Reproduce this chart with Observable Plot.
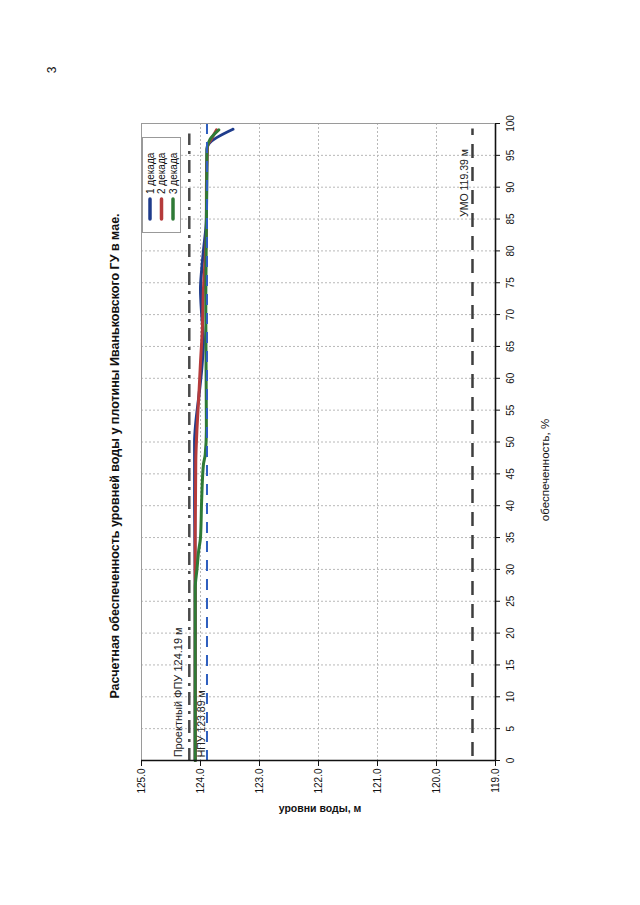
<!DOCTYPE html>
<html>
<head>
<meta charset="utf-8">
<script src="https://cdn.jsdelivr.net/npm/d3@7"></script>
<script src="https://cdn.jsdelivr.net/npm/@observablehq/plot@0.6"></script>
<style>
  html, body { margin: 0; padding: 0; background: #fff; }
  body { font-family: "Liberation Sans", Arial, sans-serif; }
  #page { position: relative; width: 640px; height: 905px; overflow: hidden; background: #fff; }
  #rot { position: absolute; left: 0; top: 0; width: 905px; height: 640px;
         transform-origin: 0 0; transform: translate(0px, 905px) rotate(-90deg); }
  #rot svg.plot { position: absolute; left: 0; top: 0; }
  .abs { position: absolute; white-space: nowrap; color: #111; }
</style>
</head>
<body>
<div id="page"><div id="rot"></div></div>
<script>
// ---- data ----
const titleText = "Расчетная обеспеченность уровней воды у плотины Иваньковского ГУ в мае.";
const xLabel = "обеспеченность, %";
const yLabel = "уровни воды, м";
const pageNumber = "3";

const percentTicks = [0, 5, 10, 15, 20, 25, 30, 35, 40, 45, 50, 55, 60, 65, 70, 75, 80, 85, 90, 95, 100];
const levelTicks = [119, 120, 121, 122, 123, 124, 125];

const seriesNames = ["1 декада", "2 декада", "3 декада"];
const seriesColors = ["#1f3c8c", "#b53b3b", "#2f7a36"];

const dek1Pct   = [0, 27, 40, 50, 53, 57, 62.5, 66, 70, 74, 77, 80, 85, 96, 96.8, 99.1];
const dek1Level = [124.09, 124.09, 124.10, 124.10, 124.08, 124.03, 123.97, 123.95, 123.98, 124.00, 123.98, 123.95, 123.90, 123.89, 123.86, 123.45];

const dek2Pct   = [0, 27, 35, 47, 52, 57, 62.5, 67.5, 74, 79, 83, 90, 96.5, 97.5, 99];
const dek2Level = [124.09, 124.09, 124.09, 124.08, 124.06, 124.03, 124.00, 123.97, 123.95, 123.92, 123.90, 123.90, 123.88, 123.82, 123.73];

const dek3Pct   = [0, 27, 30, 33, 35, 41, 46.5, 48, 52, 70, 96, 97.5, 99];
const dek3Level = [124.09, 124.09, 124.06, 124.03, 124.00, 123.98, 123.95, 123.92, 123.90, 123.91, 123.89, 123.84, 123.69];

const refNames  = ["Проектный ФПУ 124.19 м", "НПУ 123.89 м", "УМО 119.39 м"];
const refLevels = [124.19, 123.89, 119.39];

// ---- build ----
const seriesPct = [dek1Pct, dek2Pct, dek3Pct];
const seriesLevel = [dek1Level, dek2Level, dek3Level];
const rows = [];
seriesNames.forEach((name, i) => {
  seriesPct[i].forEach((p, j) => rows.push({series: name, pct: p, level: seriesLevel[i][j]}));
});
const rowsOf = name => rows.filter(d => d.series === name);

const font = "'Liberation Sans', Arial, sans-serif";

const plot = Plot.plot({
  width: 905,
  height: 640,
  marginLeft: 144,
  marginRight: 124,
  marginTop: 141,
  marginBottom: 145,
  style: {fontFamily: font, fontSize: "10px", background: "transparent", color: "#111", overflow: "visible"},
  x: {domain: [0, 100]},
  y: {domain: [119, 125]},
  marks: [
    Plot.gridX(percentTicks.filter(t => t > 0 && t < 100), {stroke: "#b8b8b8", strokeOpacity: 1, strokeDasharray: "2,2"}),
    Plot.gridY(levelTicks.filter(t => t > 119 && t < 125), {stroke: "#b8b8b8", strokeOpacity: 1, strokeDasharray: "2,2"}),
    Plot.ruleY([125], {stroke: "#9a9a9a", strokeWidth: 1}),
    Plot.ruleX([100], {stroke: "#9a9a9a", strokeWidth: 1}),
    // reference lines (ФПУ, УМО)
    Plot.ruleY([refLevels[0]], {x1: 0, x2: 98.5, stroke: "#4a4a4a", strokeWidth: 2.5, strokeDasharray: "13,6,3,6"}),
    Plot.ruleY([refLevels[2]], {x1: 0.8, x2: 99.3, stroke: "#3e3e3e", strokeWidth: 2.5, strokeDasharray: "14,9"}),
    // series
    ...seriesNames.map((name, i) => Plot.line(rowsOf(name), {
      x: "pct", y: "level", stroke: seriesColors[i], strokeWidth: 3, curve: "monotone-x",
      strokeLinecap: "round", strokeLinejoin: "round"
    })),
    // НПУ on top
    Plot.ruleY([refLevels[1]], {x1: 0, x2: 100, stroke: "#2f5fbf", strokeWidth: 2, strokeDasharray: "11,8"}),
    // labels of reference lines
    Plot.text([refNames[0]], {x: 0.5, y: [refLevels[0]], text: d => d, textAnchor: "start", lineAnchor: "bottom", dy: -7, fontSize: 11, fill: "#222"}),
    Plot.text([refNames[1]], {x: 0.5, y: [refLevels[1]], text: d => d, textAnchor: "start", lineAnchor: "bottom", dy: -2, fontSize: 10.5, fill: "#222"}),
    Plot.text([refNames[2]], {x: 96, y: [refLevels[2]], text: d => d, textAnchor: "end", lineAnchor: "bottom", dy: -4, fontSize: 10.5, fill: "#222"}),
    // axes
    Plot.axisX(percentTicks, {anchor: "bottom", tickSize: 5, tickPadding: 6, fontSize: 10, label: null}),
    Plot.axisY(levelTicks, {anchor: "left", tickSize: 5, tickPadding: 3, fontSize: 10, label: null, tickFormat: d => d.toFixed(1)}),
    Plot.ruleY([119], {stroke: "#111", strokeWidth: 1.6}),
    Plot.ruleX([0], {stroke: "#111", strokeWidth: 1.6})
  ]
});

const rot = document.getElementById("rot");
rot.appendChild(plot);

// legend (original orientation: top-right inside plot)
const lg = d3.create("svg").attr("width", 96).attr("height", 39)
  .style("position", "absolute").style("left", "672px").style("top", "142px")
  .style("font-family", font).style("font-size", "10px");
lg.append("rect").attr("x", 0.5).attr("y", 0.5).attr("width", 95).attr("height", 38)
  .attr("fill", "#fff").attr("stroke", "#999");
seriesNames.forEach((name, i) => {
  const cy = 8 + i * 11.5;
  lg.append("line").attr("x1", 14).attr("x2", 34).attr("y1", cy).attr("y2", cy)
    .attr("stroke", seriesColors[i]).attr("stroke-width", 3.5).attr("stroke-linecap", "round");
  lg.append("text").attr("x", 39).attr("y", cy).attr("dy", "0.35em").attr("fill", "#111").text(name);
});
rot.appendChild(lg.node());

// title
const t = document.createElement("div");
t.className = "abs";
t.textContent = titleText;
t.style.cssText += "left:449px; top:115px; transform: translate(-50%,-50%); font-weight:bold; font-size:12.5px;";
rot.appendChild(t);

// x axis title (percent)
const xl = document.createElement("div");
xl.className = "abs";
xl.textContent = xLabel;
xl.style.cssText += "left:435px; top:545px; transform: translate(-50%,-50%); font-size:11.5px;";
rot.appendChild(xl);

// page number
const pn = document.createElement("div");
pn.className = "abs";
pn.textContent = pageNumber;
pn.style.cssText += "left:835px; top:52px; transform: translate(-50%,-50%); font-size:12px;";
rot.appendChild(pn);

// y axis title (levels) - reads horizontally on the page
const yl = document.createElement("div");
yl.className = "abs";
yl.textContent = yLabel;
yl.style.cssText += "left:320px; top:808px; transform: translate(-50%,-50%); font-size:10.5px; font-weight:bold;";
document.getElementById("page").appendChild(yl);
</script>
</body>
</html>
